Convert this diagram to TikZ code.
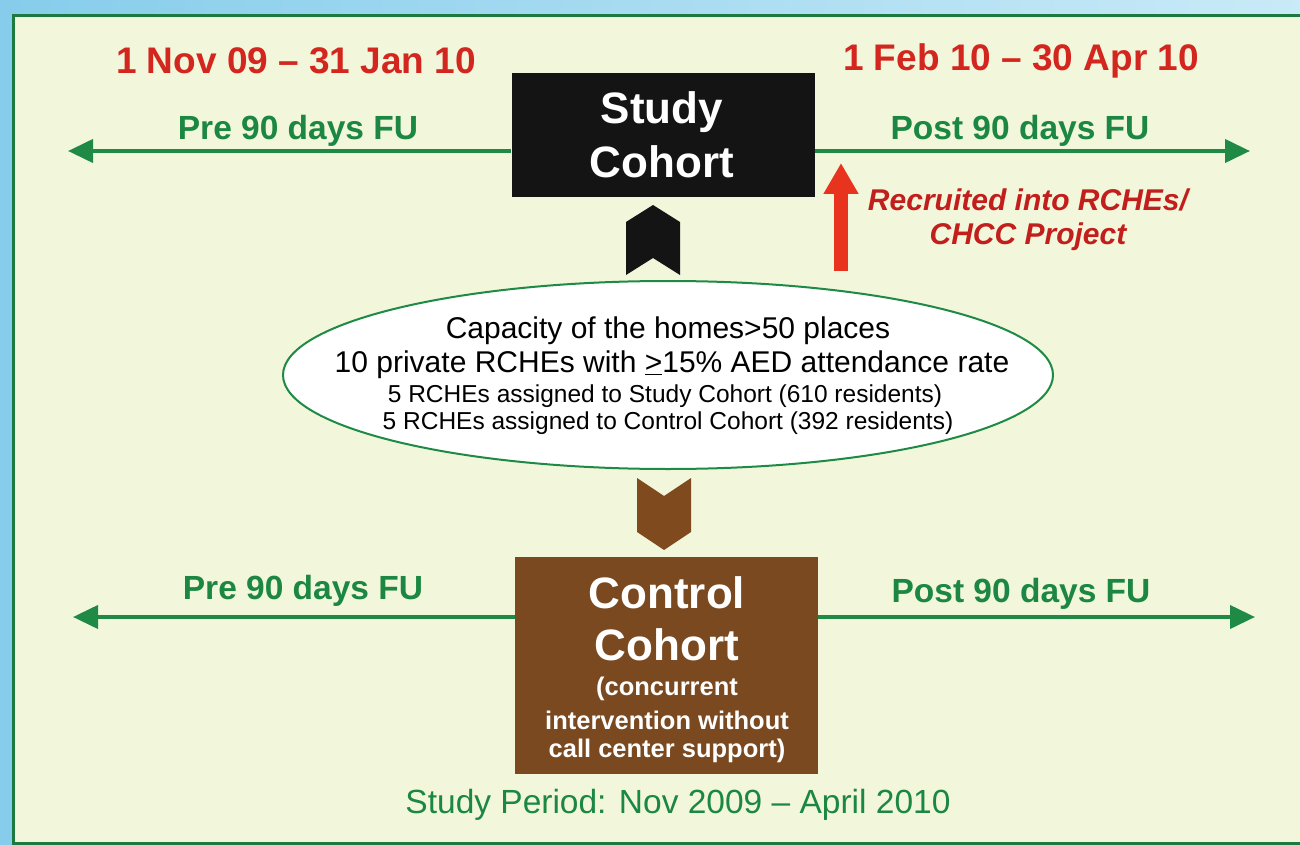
\documentclass[tikz,border=0pt]{standalone}
\usepackage{fontspec}
\setmainfont{Liberation Sans}
\usetikzlibrary{arrows.meta,shapes.geometric,calc}
\definecolor{bgblueL}{HTML}{86CDEB}
\definecolor{bgblueR}{HTML}{C9EAF7}
\definecolor{cream}{HTML}{F2F7DC}
\definecolor{framegreen}{HTML}{1C7A40}
\definecolor{arrgreen}{HTML}{1E8A45}
\definecolor{txtgreen}{HTML}{1C8742}
\definecolor{datered}{HTML}{D3261E}
\definecolor{recred}{HTML}{C21F1C}
\definecolor{uparrow}{HTML}{E8341F}
\definecolor{brownbox}{HTML}{7A4920}
\definecolor{chevbrown}{HTML}{7E4A1E}
\tikzset{
  datetxt/.style={text=datered,font=\fontsize{37}{40}\selectfont\bfseries,inner sep=0},
  futxt/.style={text=txtgreen,font=\fontsize{33.5}{36}\selectfont\bfseries,inner sep=0},
  fuarrow/.style={draw=arrgreen,line width=4pt,-{Triangle[width=23pt,length=25pt]}},
  cohortbox/.style={draw=none,inner sep=0},
  bigwhite/.style={text=white,font=\fontsize{44}{52}\selectfont\bfseries,inner sep=0},
  smallwhite/.style={text=white,font=\fontsize{25.5}{32}\selectfont\bfseries,inner sep=0},
  elltxt/.style={text=black,font=\fontsize{30}{34}\selectfont,inner sep=0},
  elltxts/.style={text=black,font=\fontsize{24.5}{28}\selectfont,inner sep=0},
  rectxt/.style={text=recred,font=\fontsize{30}{37}\selectfont\bfseries\itshape,inner sep=0,align=center},
}
\begin{document}
\begin{tikzpicture}[x=1pt,y=-1pt]
\useasboundingbox (0,0) rectangle (1300,845);
\shade[left color=bgblueL,right color=bgblueR] (0,0) rectangle (1300,845);
\draw[framegreen,line width=3pt,fill=cream] (13,16) rectangle (1303,843);

% dates
\node[datetxt] (d1) at (296,61) {1 Nov 09 – 31 Jan 10};
\node[datetxt] (d2) at (1021,61) {1 Feb 10 – 30 Apr 10};

% study cohort box
\node[cohortbox,fill=black!92,minimum width=303pt,minimum height=124pt] (study) at (663,135) {};
\node[bigwhite] (s1) at (662,112) {Study};
\node[bigwhite] (s2) at (662,162) {Cohort};

% pre/post top
\coordinate (preL) at (68,151);
\coordinate (postR) at (1250,151);
\coordinate (studyL) at (study.west |- preL);
\coordinate (studyR) at (study.east |- postR);
\draw[fuarrow] (studyL) -- (preL);
\draw[fuarrow] (studyR) -- (postR);
\node[futxt] (pre1) at (298,131) {Pre 90 days FU};
\node[futxt] (post1) at (1020,131) {Post 90 days FU};

% red recruitment arrow
\coordinate (recB) at (841,271);
\coordinate (recT) at (841,163);
\draw[uparrow,line width=14pt,-{Triangle[width=33pt,length=31pt]}] (recB) -- (recT);
\node[rectxt] (rec1) at (1028,200) {Recruited into RCHEs/};
\node[rectxt] (rec2) at (1028,237) {CHCC Project};

% black chevron (up)
\fill[black!92] (626,222) -- (653,205) -- (680,222) -- (680,275) -- (653,258) -- (626,275) -- cycle;

% ellipse
\node[ellipse,draw=arrgreen,line width=2pt,fill=white,minimum width=770pt,minimum height=188pt,inner sep=0] (pool) at (668,375) {};
\node[elltxt] (e1) at (668,331) {Capacity of the homes>50 places};
\node[elltxt] (e2) at (672,365) {10 private RCHEs with \underline{>}15\% AED attendance rate};
\node[elltxts] (e3) at (665,396) {5 RCHEs assigned to Study Cohort (610 residents)};
\node[elltxts] (e4) at (668,423) {5 RCHEs assigned to Control Cohort (392 residents)};

% brown chevron (down)
\fill[chevbrown] (637,478) -- (664,496) -- (691,478) -- (691,532) -- (664,550) -- (637,532) -- cycle;

% control cohort box
\node[cohortbox,fill=brownbox,minimum width=303pt,minimum height=217pt] (control) at (666.5,665) {};
\node[bigwhite] (c1) at (667,593) {Control};
\node[bigwhite] (c2) at (667,645) {Cohort};
\node[smallwhite] (c3) at (667,689) {(concurrent};
\node[smallwhite] (c4) at (667,720) {intervention without};
\node[smallwhite] (c5) at (667,751) {call center support)};

% pre/post bottom
\coordinate (preL2) at (73,617);
\coordinate (postR2) at (1255,617);
\coordinate (ctrlL) at (control.west |- preL2);
\coordinate (ctrlR) at (control.east |- postR2);
\draw[fuarrow] (ctrlL) -- (preL2);
\draw[fuarrow] (ctrlR) -- (postR2);
\node[futxt] (pre2) at (303,591) {Pre 90 days FU};
\node[futxt] (post2) at (1021,594) {Post 90 days FU};

% study period
\node[text=txtgreen,font=\fontsize{33.5}{36}\selectfont,inner sep=0] (period) at (678,805) {Study Period: Nov 2009 – April 2010};
\end{tikzpicture}
\end{document}
